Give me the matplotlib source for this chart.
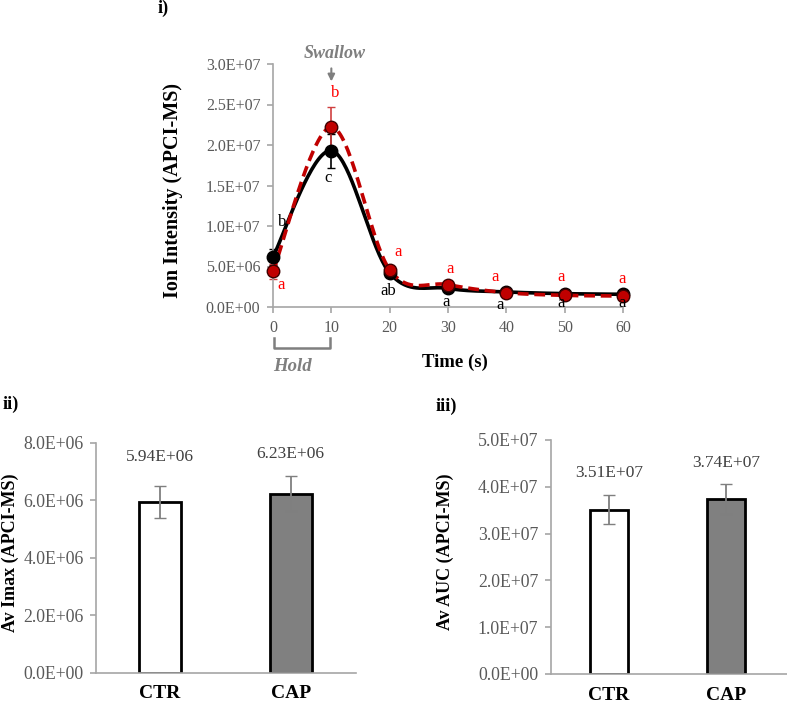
import numpy as np
import matplotlib
matplotlib.use("Agg")
import matplotlib.pyplot as plt
from matplotlib.transforms import blended_transform_factory

plt.rcParams['font.family'] = ['Liberation Serif', 'DejaVu Serif']

# ---------------- data ----------------
time_s = [0, 10, 20, 30, 40, 50, 60]
ctr_ion = [6.2e6, 1.93e7, 4.2e6, 2.3e6, 1.86e6, 1.65e6, 1.57e6]
ctr_err = [1.0e6, 2.1e6, 0, 0, 0, 0, 0]
cap_ion = [4.4e6, 2.22e7, 4.6e6, 2.76e6, 1.77e6, 1.44e6, 1.36e6]
cap_err = [0.9e6, 2.5e6, 0, 0, 0, 0, 0]
ctr_letters = ['b', 'c', 'ab', 'a', 'a', 'a', 'a']
cap_letters = ['a', 'b', 'a', 'a', 'a', 'a', 'a']

groups = ['CTR', 'CAP']
imax = [5.94e6, 6.23e6]
imax_err = [0.55e6, 0.62e6]
auc = [3.51e7, 3.74e7]
auc_err = [0.31e7, 0.33e7]

GRAY = '#7f7f7f'
TICK = '#595959'
RED = '#c00000'


def sci(v, nd=1):
    if v == 0:
        return '0.' + '0' * nd + 'E+00'
    exp = int(np.floor(np.log10(v)))
    return ('%.' + str(nd) + 'fE+%02d') % (v / 10 ** exp, exp)


def smooth(x, y, n=40):
    x = np.asarray(x, float); y = np.asarray(y, float)
    P = np.column_stack([x, y])
    P = np.vstack([P[0], P, P[-1]])
    out = []
    t = np.linspace(0, 1, n)[:, None]
    for i in range(1, len(P) - 2):
        p0, p1, p2, p3 = P[i - 1], P[i], P[i + 1], P[i + 2]
        c1 = p1 + (p2 - p0) / 6.0
        c2 = p2 - (p3 - p1) / 6.0
        seg = ((1 - t) ** 3) * p1 + 3 * ((1 - t) ** 2) * t * c1 + 3 * (1 - t) * t ** 2 * c2 + t ** 3 * p2
        out.append(seg)
    s = np.vstack(out)
    return s[:, 0], s[:, 1]


fig = plt.figure(figsize=(7.87, 7.04), dpi=100)
W, H = 787, 704


def style_axes(ax):
    for s in ['top', 'right']:
        ax.spines[s].set_visible(False)
    for s in ['left', 'bottom']:
        ax.spines[s].set_color('#a6a6a6')
        ax.spines[s].set_linewidth(1.2)
    ax.tick_params(colors='#a6a6a6', labelcolor=TICK, length=4, width=1.2, pad=5)


# ---------------- panel i ----------------
ax1 = fig.add_axes([273 / W, 1 - 307 / H, 350 / W, 243 / H])
style_axes(ax1)
ax1.set_xlim(0, 60)
ax1.set_ylim(0, 3.0e7)
ax1.set_xticks(time_s)
yt = np.arange(0, 3.01e7, 5e6)
ax1.set_yticks(yt)
ax1.set_yticklabels([sci(v) for v in yt])
ax1.tick_params(labelsize=11.5)

xs, ys = smooth(time_s, ctr_ion)
ax1.plot(xs, ys, color='black', lw=2.6, clip_on=False, zorder=3)
xs, ys = smooth(time_s, cap_ion)
ax1.plot(xs, ys, color=RED, lw=2.6, ls=(0, (3, 1.6)), clip_on=False, zorder=4)

ctr_e = [e if e > 0 else np.nan for e in ctr_err]
cap_e = [e if e > 0 else np.nan for e in cap_err]
ax1.errorbar(time_s, ctr_ion, yerr=ctr_e, fmt='none', ecolor='black', elinewidth=1.2, capsize=3, clip_on=False, zorder=2)
ax1.errorbar(time_s, cap_ion, yerr=cap_e, fmt='none', ecolor='#d04040', elinewidth=1.2, capsize=3, clip_on=False, zorder=2)
ax1.plot(time_s, ctr_ion, 'o', color='black', ms=9, mec='black', clip_on=False, zorder=5)
ax1.plot(time_s, cap_ion, 'o', color=RED, ms=9, mec='#400000', mew=1, clip_on=False, zorder=6)

ctr_lx = [1.5, 9.4, 19.7, 29.7, 38.9, 49.4, 59.8]
ctr_ly = [1.05e7, 1.59e7, 0.2e7, 0.06e7, 0.03e7, 0.05e7, 0.05e7]
cap_lx = [1.4, 10.7, 21.4, 30.3, 38.1, 49.4, 59.8]
cap_ly = [0.27e7, 2.64e7, 0.68e7, 0.47e7, 0.37e7, 0.37e7, 0.35e7]
for x, y, t in zip(ctr_lx, ctr_ly, ctr_letters):
    ax1.text(x, y, t, color='black', fontsize=12, ha='center', va='center', zorder=7)
for x, y, t in zip(cap_lx, cap_ly, cap_letters):
    ax1.text(x, y, t, color='#ff0000', fontsize=12, ha='center', va='center', zorder=7)

# swallow arrow
ax1.annotate('', xy=(10, 2.75e7), xytext=(10, 2.98e7),
             arrowprops=dict(arrowstyle='-|>', color=GRAY, lw=1.5, mutation_scale=10), annotation_clip=False)
ax1.text(10.5, 3.13e7, 'Swallow', color=GRAY, fontsize=13, style='italic', weight='bold', ha='center', va='center')

# hold bracket
tr = blended_transform_factory(ax1.transData, ax1.transAxes)
ax1.plot([0.1, 0.1, 9.8, 9.8], [-0.128, -0.169, -0.169, -0.128], color=GRAY, lw=1.8, transform=tr, clip_on=False)
ax1.text(3.4, -0.245, 'Hold', color=GRAY, fontsize=13.5, style='italic', weight='bold', ha='center', va='center',
         transform=tr)
ax1.text(31.2, -0.226, 'Time (s)', color='black', fontsize=13.5, weight='bold', ha='center', va='center', transform=tr)

fig.text(173 / W, 1 - 191 / H, 'Ion Intensity (APCI-MS)', rotation=90, fontsize=14.5, weight='bold',
         ha='center', va='center')
fig.text(163 / W, 1 - 8 / H, 'i)', fontsize=13, weight='bold', ha='center', va='center')


# ---------------- bar panels ----------------
def bar_panel(rect, vals, errs, ylim, yticks, xlim, pad_px):
    ax = fig.add_axes(rect)
    style_axes(ax)
    x = np.arange(len(groups))
    ax.bar(x, vals, width=0.32, color=['white', '#808080'], edgecolor='black', linewidth=2, zorder=2)
    ax.errorbar(x, vals, yerr=errs, fmt='none', ecolor=GRAY, elinewidth=1.3, capsize=4, zorder=3)
    ax.set_xlim(*xlim)
    ax.set_ylim(*ylim)
    ax.set_yticks(yticks)
    ax.set_yticklabels([sci(v) for v in yticks])
    ax.tick_params(axis='y', labelsize=12.8)
    ax.set_xticks(x)
    ax.set_xticklabels(groups, fontsize=14, weight='bold', color='black')
    ax.tick_params(axis='x', length=0, pad=9)
    for xi, v, p in zip(x, vals, pad_px):
        ax.annotate(sci(v, 2), xy=(xi, v), xytext=(0, p), textcoords='offset pixels',
                    ha='center', va='center', fontsize=12.5, color='#404040')
    return ax


bar_panel([96 / W, 1 - 672.7 / H, 260 / W, 230 / H], imax, imax_err, (0, 8e6),
          np.arange(0, 8.01e6, 2e6), (-0.49, 1.5), [45, 40])
fig.text(10 / W, 1 - 553 / H, 'Av Imax (APCI-MS)', rotation=90, fontsize=13, weight='bold', ha='center', va='center')
fig.text(11 / W, 1 - 404 / H, 'ii)', fontsize=13, weight='bold', ha='center', va='center')

bar_panel([550.7 / W, 1 - 674 / H, (787 - 550.7) / W, 234 / H], auc, auc_err, (0, 5e7),
          np.arange(0, 5.01e7, 1e7), (-0.496, 1.521), [37, 36])
fig.text(445 / W, 1 - 552 / H, 'Av AUC (APCI-MS)', rotation=90, fontsize=13, weight='bold', ha='center', va='center')
fig.text(446 / W, 1 - 406 / H, 'iii)', fontsize=13, weight='bold', ha='center', va='center')

fig.savefig('out.png', dpi=100, facecolor='white')
